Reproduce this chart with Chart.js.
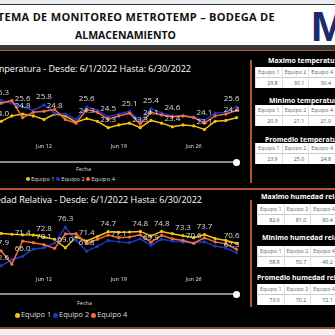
<!DOCTYPE html>
<html>
<head>
<meta charset="utf-8">
<script src="https://cdn.jsdelivr.net/npm/chart.js@4.4.0/dist/chart.umd.min.js"></script>
<style>
  html, body { margin: 0; padding: 0; }
  body { width: 335px; height: 335px; overflow: hidden; position: relative; background: #000; font-family: "Open Sans", sans-serif; }
  .abs { position: absolute; white-space: nowrap; }
  .title { color: #111; font-weight: bold; font-size: 10.5px; line-height: 19px; }
  .sub { color: #fff; font-size: 9px; line-height: 12px; }
  .kpi { color: #fff; font-weight: bold; font-size: 6.9px; line-height: 10px; }
  table { border-collapse: collapse; background: #fff; font-size: 5.3px; color: #666; }
  td { border-left: 1px solid #ddd; padding: 0 2px; height: 10px; line-height: 10px; }
  tr.v td { text-align: right; padding-right: 4px; color: #555; border-top: 1px solid #b9cde6; }
  .fecha { color: #ddd; font-size: 5.5px; }
  .leg span.d { display: inline-block; border-radius: 50%; margin-right: 1px; vertical-align: middle; }
  .leg { color: #ddd; }
  .track { height: 2px; background: #8c8c8c; left: 0; width: 236px; }
  .knob { width: 7px; height: 7px; border-radius: 50%; background: #fff; }
</style>
</head>
<body>
<div class="abs" style="left:0;top:0;width:335px;height:4px;background:#e7ecf1"></div>
<div class="abs" style="left:0;top:4px;width:335px;height:1.5px;background:#333"></div>
<div class="abs" style="left:0;top:5px;width:335px;height:40px;background:#fff"></div>
<div class="abs title" style="right:60px;top:7px;font-size:11px;letter-spacing:0.3px">SISTEMA DE MONITOREO METROTEMP – BODEGA DE</div>
<div class="abs title" style="left:75px;top:26px">ALMACENAMIENTO</div>
<div class="abs" style="left:311px;top:2px;font:bold 43px 'Liberation Sans';color:#1c2a6e">M</div>
<div class="abs" style="left:0;top:45px;width:335px;height:5px;background:#383838"></div>
<div class="abs" style="left:0;top:50px;width:335px;height:1px;background:#b5552c"></div>

<div class="abs sub" style="right:144px;top:63px">Temperatura - Desde: 6/1/2022 Hasta: 6/30/2022</div>
<canvas id="tempChart" class="abs" style="left:-10px;top:80px" width="260" height="74"></canvas>
<div class="abs track" style="top:161px"></div>
<div class="abs knob" style="left:233px;top:158.5px"></div>
<div class="abs fecha" style="left:76px;top:165px">Fecha</div>
<div class="abs leg" id="tempLegend" style="left:26px;top:175px;font-size:5.8px"></div>

<div class="abs" style="left:250px;top:60px;width:2px;height:123px;background:#b5552c"></div>
<div class="abs kpi" style="left:268px;top:56px">Maximo temperatura</div>
<table class="abs" id="tMax" style="left:255px;top:67px"></table>
<div class="abs kpi" style="left:269px;top:96px">Minimo temperatura</div>
<table class="abs" id="tMin" style="left:255px;top:105px"></table>
<div class="abs kpi" style="left:265px;top:135px">Promedio temperatura</div>
<table class="abs" id="tAvg" style="left:255px;top:143px"></table>

<div class="abs" style="left:0;top:188px;width:335px;height:2px;background:#b5552c"></div>

<div class="abs sub" style="right:133px;top:194px">Humedad Relativa - Desde: 6/1/2022 Hasta: 6/30/2022</div>
<canvas id="humChart" class="abs" style="left:-10px;top:210px" width="260" height="77"></canvas>
<div class="abs track" style="top:293px"></div>
<div class="abs knob" style="left:233px;top:290.5px"></div>
<div class="abs fecha" style="left:77px;top:299px">Fecha</div>
<div class="abs leg" id="humLegend" style="left:15px;top:309px;font-size:7.4px"></div>

<div class="abs" style="left:250px;top:200px;width:2px;height:107px;background:#b5552c"></div>
<div class="abs kpi" style="left:261px;top:192px">Maximo humedad relativa</div>
<table class="abs" id="hMax" style="left:257px;top:204px"></table>
<div class="abs kpi" style="left:262px;top:233px">Minimo humedad relativa</div>
<table class="abs" id="hMin" style="left:257px;top:246px"></table>
<div class="abs kpi" style="left:257px;top:273px">Promedio humedad relativa</div>
<table class="abs" id="hAvg" style="left:257px;top:284px"></table>

<div class="abs" style="left:0;top:327px;width:335px;height:2px;background:#8a4a2a"></div>
<div class="abs" style="left:0;top:329px;width:335px;height:6px;background:#eef1f5"></div>

<script>
const days = ['Jun 8', 'Jun 9', 'Jun 10', 'Jun 11', 'Jun 12', 'Jun 13', 'Jun 14', 'Jun 15', 'Jun 16', 'Jun 17',
    'Jun 18', 'Jun 19', 'Jun 20', 'Jun 21', 'Jun 22', 'Jun 23', 'Jun 24', 'Jun 25', 'Jun 26', 'Jun 27',
    'Jun 28', 'Jun 29', 'Jun 30'];
const tickDays = ['Jun 12', 'Jun 19', 'Jun 26'];
const seriesNames = ['Equipo 1', 'Equipo 2', 'Equipo 4'];
const seriesColors = ['#f5c311', '#1f35c9', '#f26f3e'];

// temperatura
const tempEquipo1 = [24.0, 24.6, 24.8, 24.6, 24.2, 24.8, 24.6, 23.9, 24.3, 24.0, 23.3, 23.6, 23.8, 23.3, 24.1, 23.8, 23.4, 23.6, 23.5, 23.1, 24.0, 24.1, 24.4];
const tempEquipo2 = [26.3, 26.0, 25.6, 25.2, 25.8, 24.9, 24.8, 24.2, 25.6, 25.2, 24.5, 24.8, 25.1, 24.0, 25.4, 24.9, 24.6, 24.6, 24.5, 24.1, 24.9, 25.0, 25.6];
const tempEquipo4 = [26.0, 26.3, 24.4, 25.0, 25.1, 25.3, 24.2, 23.8, 25.3, 25.0, 24.2, 24.6, 24.9, 23.7, 25.0, 24.7, 24.5, 24.6, 24.4, 23.8, 24.6, 24.8, 25.2];
const tempLabels1 = [0, 2, 5, 8, 10, 13, 14, 16, 19, 22];
const tempLabels2 = [0, 2, 4, 8, 10, 12, 14, 16, 19, 22];
const tempLabels4 = [];

// humedad relativa
const humEquipo1 = [74.1, 73.8, 73.6, 73.5, 72.8, 72.0, 69.0, 72.8, 71.4, 73.0, 74.7, 74.5, 74.6, 74.8, 73.2, 74.8, 74.0, 73.3, 72.6, 73.7, 72.3, 71.6, 70.6];
const humEquipo2 = [62.6, 64.8, 66.0, 68.5, 69.0, 70.7, 76.3, 71.6, 67.8, 69.5, 71.6, 71.1, 70.8, 72.2, 69.9, 72.0, 71.4, 71.0, 70.7, 71.1, 69.6, 68.9, 67.3];
const humEquipo4 = [67.9, 63.2, 71.4, 70.8, 70.1, 68.8, 73.9, 74.0, 70.5, 72.0, 73.5, 72.6, 72.8, 73.6, 71.0, 73.4, 72.2, 71.6, 70.6, 72.5, 71.1, 70.4, 68.5];
const humLabels1 = [4, 6, 8, 10, 13, 15, 17, 19, 22];
const humLabels2 = [0, 2, 6, 8, 11, 14, 22];
const humLabels4 = [0, 2, 4, 18];

// tarjetas
const tempMax = ['29.8', '30.1', '30.4'];
const tempMin = ['20.3', '21.1', '21.0'];
const tempAvg = ['23.9', '25.0', '24.8'];
const humMax = ['82.6', '81.0', '80.4'];
const humMin = ['58.9', '50.7', '49.2'];
const humAvg = ['73.0', '70.2', '72.1'];

const pointLabels = {
    id: 'pointLabels',
    afterDatasetsDraw(chart) {
        const ctx = chart.ctx;
        ctx.save();
        ctx.font = '8px "Open Sans"';
        ctx.fillStyle = '#dcdcdc';
        ctx.textAlign = 'center';
        ctx.textBaseline = 'middle';
        chart.data.datasets.forEach((ds, di) => {
            const meta = chart.getDatasetMeta(di);
            ds.labelIdx.forEach(i => {
                const p = meta.data[i];
                const txt = ds.data[i].toFixed(1);
                const w = ctx.measureText(txt).width;
                const x = Math.min(p.x, chart.chartArea.right + 3 - w / 2);
                ctx.fillText(txt, x, p.y - 8);
            });
        });
        ctx.restore();
    }
};

function makeSets(values, labelIdx) {
    return values.map((v, k) => ({
        label: seriesNames[k],
        data: v,
        labelIdx: labelIdx[k],
        borderColor: seriesColors[k],
        backgroundColor: seriesColors[k],
        pointBackgroundColor: seriesColors[k],
        borderWidth: 1.5,
        pointRadius: 1.6,
        pointBorderWidth: 0,
        order: 2 - k,
        clip: false
    }));
}

function makeChart(id, sets, yMin, yMax) {
    return new Chart(document.getElementById(id), {
        type: 'line',
        data: { labels: days, datasets: sets },
        options: {
            responsive: false,
            animation: false,
            layout: { padding: { left: 11.2, right: 13.5, top: 0, bottom: 0 } },
            plugins: {
                legend: { display: false },
                tooltip: { enabled: false }
            },
            scales: {
                x: {
                    grid: { display: false, drawTicks: false },
                    border: { display: false },
                    ticks: {
                        color: '#e6e6e6',
                        font: { size: 5.5, family: 'Open Sans' },
                        padding: 4,
                        autoSkip: false,
                        maxRotation: 0,
                        callback: function (v) {
                            const l = this.getLabelForValue(v);
                            return tickDays.includes(l) ? l : '';
                        }
                    }
                },
                y: { display: false, min: yMin, max: yMax }
            }
        },
        plugins: [pointLabels]
    });
}

makeChart('tempChart', makeSets([tempEquipo1, tempEquipo2, tempEquipo4], [tempLabels1, tempLabels2, tempLabels4]), 22.01, 28.11);
makeChart('humChart', makeSets([humEquipo1, humEquipo2, humEquipo4], [humLabels1, humLabels2, humLabels4]), 60.29, 80.97);

function fillTable(id, vals, colW) {
    const t = document.getElementById(id);
    let h = '<tr>' + seriesNames.map(n => '<td style="width:' + (colW - 5) + 'px">' + n + '</td>').join('') + '</tr>';
    h += '<tr class="v">' + vals.map(v => '<td>' + v + '</td>').join('') + '</tr>';
    t.innerHTML = h;
}
fillTable('tMax', tempMax, 30);
fillTable('tMin', tempMin, 30);
fillTable('tAvg', tempAvg, 30);
fillTable('hMax', humMax, 25);
fillTable('hMin', humMin, 25);
fillTable('hAvg', humAvg, 25);

function fillLegend(id, dot) {
    document.getElementById(id).innerHTML = seriesNames.map((n, k) =>
        '<span class="d" style="width:' + dot + 'px;height:' + dot + 'px;background:' + seriesColors[k] + '"></span>' + n
    ).join(' ');
}
fillLegend('tempLegend', 4);
fillLegend('humLegend', 5);
</script>
</body>
</html>
